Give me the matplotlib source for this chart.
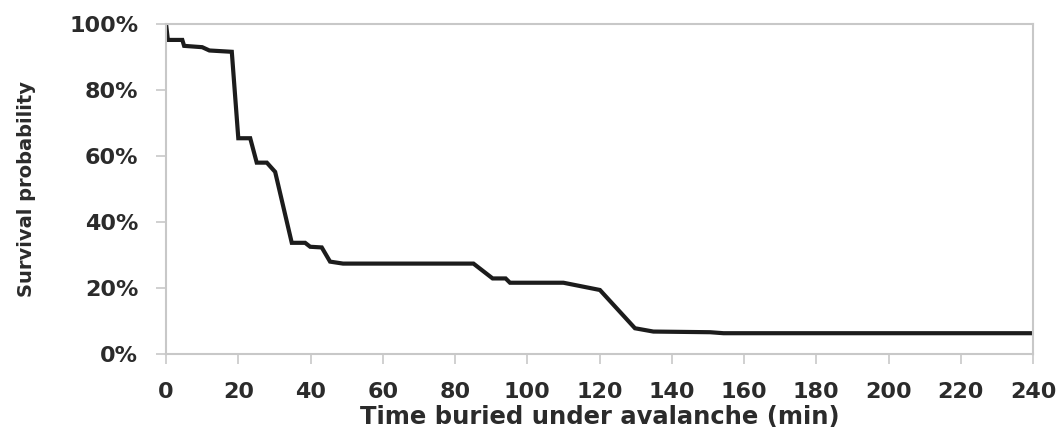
import numpy as np
import matplotlib.pyplot as plt
from matplotlib.ticker import PercentFormatter

# survival curve vertices
time_min = [0, 0.5, 4.5, 5, 10, 12, 18.2, 20, 23.3, 25.1, 27.9, 30.2, 34.8,
            38.5, 39.9, 43.1, 45.4, 49, 85.1, 90.4, 94, 95.2, 110, 120.1,
            129.8, 134.9, 150.6, 154.3, 240]
survival = [100, 95.2, 95.2, 93.4, 93.0, 92, 91.6, 65.4, 65.4, 58, 58, 55.2,
            33.7, 33.7, 32.5, 32.3, 28, 27.4, 27.4, 22.9, 22.9, 21.6, 21.6,
            19.4, 7.8, 6.8, 6.6, 6.3, 6.3]

x_ticks = list(range(0, 241, 20))
y_ticks = [0, 20, 40, 60, 80, 100]

plt.rcParams['font.family'] = ['DejaVu Sans']
text_col = '#2b2b2b'
frame_col = '#c8c8c8'

fig = plt.figure(figsize=(10.59, 4.38), dpi=100)
ax = fig.add_axes([0.1568, 0.1918, 0.8187, 0.7532])

ax.plot(time_min, survival, color='#1c1c1c', lw=3.0, solid_joinstyle='miter')

ax.set_xlim(0, 240)
ax.set_ylim(0, 100)
ax.set_xticks(x_ticks)
ax.set_yticks(y_ticks)
ax.yaxis.set_major_formatter(PercentFormatter(decimals=0))

for s in ax.spines.values():
    s.set_color(frame_col)
    s.set_linewidth(1.5)

ax.tick_params(axis='both', direction='out', length=7, width=1.2,
               color=frame_col, labelcolor=text_col, labelsize=16)
ax.tick_params(axis='x', pad=13)
ax.tick_params(axis='y', pad=13)
for lab in ax.get_xticklabels() + ax.get_yticklabels():
    lab.set_fontweight('bold')

ax.set_xlabel('Time buried under avalanche (min)', fontsize=17.5,
              fontweight='bold', color=text_col, labelpad=2)
ax.set_ylabel('Survival probability', fontsize=14, fontweight='bold',
              color=text_col, labelpad=24)

fig.savefig('out.png', dpi=100)
